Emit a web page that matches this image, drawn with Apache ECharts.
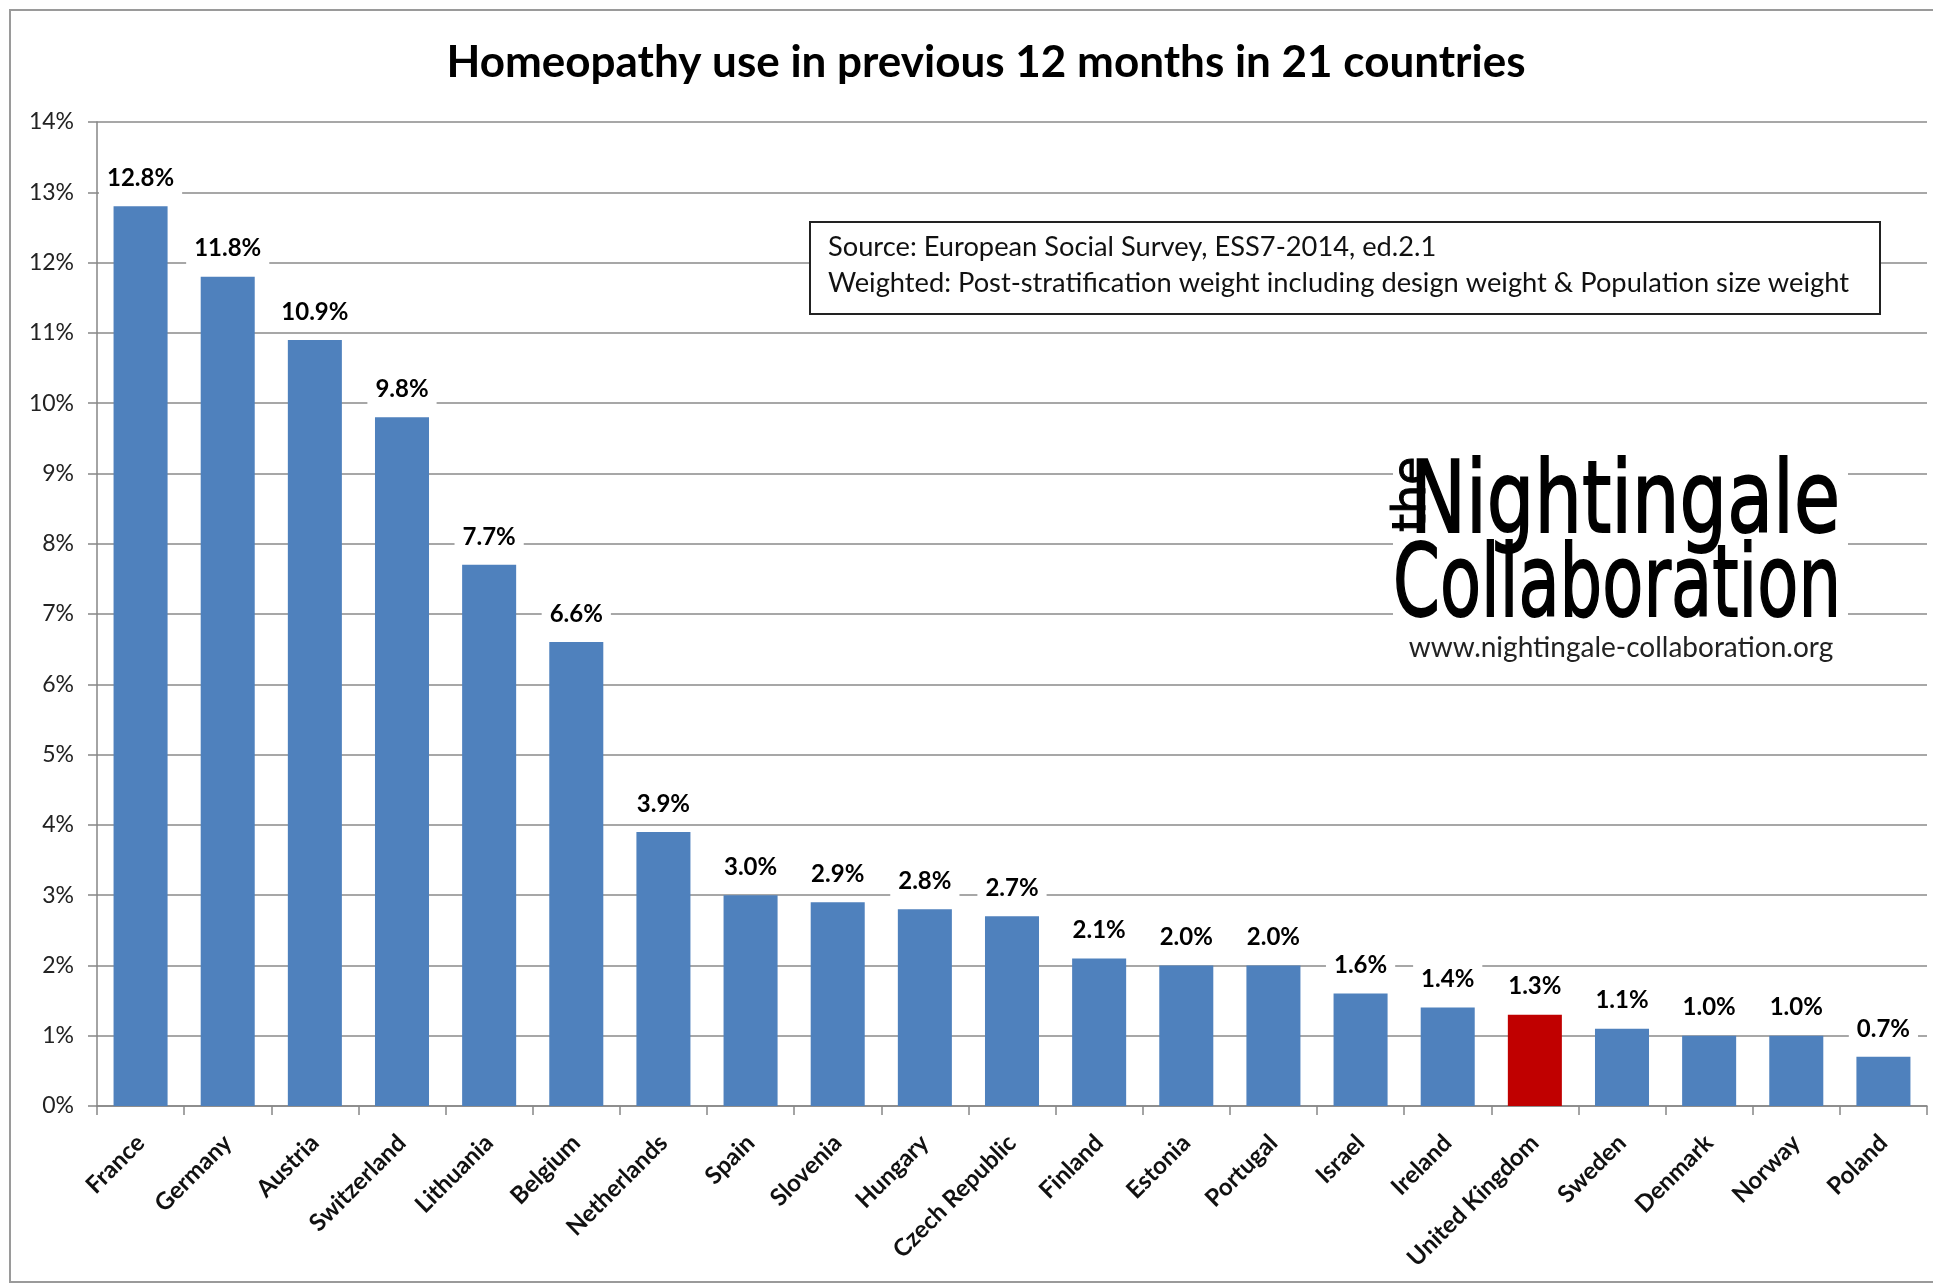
<!DOCTYPE html>
<html>
<head>
<meta charset="utf-8">
<script src="https://cdn.jsdelivr.net/npm/echarts@6/dist/echarts.min.js"></script>
<style>
html,body{margin:0;padding:0;background:#fff;}
#chart{width:1933px;height:1284px;}
</style>
</head>
<body>
<div id="chart"></div>
<script>
const titleText = 'Homeopathy use in previous 12 months in 21 countries';
const categories = ['France','Germany','Austria','Switzerland','Lithuania','Belgium','Netherlands','Spain','Slovenia','Hungary','Czech Republic','Finland','Estonia','Portugal','Israel','Ireland','United Kingdom','Sweden','Denmark','Norway','Poland'];
const values = [12.8,11.8,10.9,9.8,7.7,6.6,3.9,3.0,2.9,2.8,2.7,2.1,2.0,2.0,1.6,1.4,1.3,1.1,1.0,1.0,0.7];
const highlighted = ['United Kingdom'];
const yMin = 0, yMax = 14, yStep = 1;
const sourceLines = ['Source: European Social Survey, ESS7-2014, ed.2.1','Weighted: Post-stratification weight including design weight & Population size weight'];
const logoLines = ['the','Nightingale','Collaboration','www.nightingale-collaboration.org'];

const FONT = 'Lato, "Open Sans", sans-serif';
const mctx = document.createElement('canvas').getContext('2d');
function fitScale(text, font, target){ mctx.font = font; return target / mctx.measureText(text).width; }

const chart = echarts.init(document.getElementById('chart'), null, {renderer:'canvas'});
const logoFont = '"DejaVu Sans", sans-serif';
const sN = fitScale(logoLines[1], '100px "DejaVu Sans"', 430);
const sC = fitScale(logoLines[2], '100px "DejaVu Sans"', 448);
const sSrc = fitScale(sourceLines[1], '26px Lato', 1021);

chart.setOption({
  backgroundColor:'#fff',
  animation:false,
  title:{text:titleText,left:981,top:36,textAlign:'center',textStyle:{fontFamily:FONT,fontWeight:'bold',fontSize:44,color:'#000'}},
  grid:{left:97,right:6,top:122,bottom:178,containLabel:false},
  xAxis:{type:'category',data:categories,boundaryGap:true,
    axisLine:{lineStyle:{color:'#868686',width:1.5}},
    axisTick:{show:true,length:9,lineStyle:{color:'#868686',width:1.5}},
    axisLabel:{rotate:45,margin:33,interval:0,fontFamily:FONT,fontWeight:'bold',fontSize:24,color:'#111'}},
  yAxis:{type:'value',min:yMin,max:yMax,interval:yStep,
    axisLine:{show:true,lineStyle:{color:'#868686',width:1.5}},
    axisTick:{show:true,length:9,lineStyle:{color:'#868686',width:1.5}},
    axisLabel:{formatter:'{value}%',margin:23,fontFamily:FONT,fontSize:23,color:'#222'},
    splitLine:{lineStyle:{color:'#8a8a8a',width:1.5}}},
  series:[{type:'bar',barWidth:'62%',
    data:values.map((v,i)=>({value:v,itemStyle:{color: highlighted.includes(categories[i]) ? '#C00000' : '#4F81BD'}})),
    label:{show:true,position:'top',distance:12,formatter:p=>p.value.toFixed(1)+'%',fontFamily:FONT,fontWeight:'bold',fontSize:24,color:'#000',backgroundColor:'#fff',padding:[4,8]},
    z:3}],
  graphic:[
    {type:'rect',z:0,silent:true,shape:{x:10,y:10,width:1940,height:1272},style:{fill:'none',stroke:'#9a9a9a',lineWidth:2}},
    {type:'rect',z:10,shape:{x:810,y:222,width:1070,height:92},style:{fill:'#fff',stroke:'#222',lineWidth:2}},
    {type:'text',z:11,x:828,y:248,scaleX:sSrc,style:{text:sourceLines[0],fontFamily:FONT,fontSize:26,fill:'#111',align:'left',verticalAlign:'middle'}},
    {type:'text',z:11,x:828,y:284,scaleX:sSrc,style:{text:sourceLines[1],fontFamily:FONT,fontSize:26,fill:'#111',align:'left',verticalAlign:'middle'}},
    {type:'rect',z:10,shape:{x:1393,y:440,width:455,height:225},style:{fill:'#fff'}},
    {type:'text',z:11,x:1413,y:532,rotation:Math.PI/2,style:{text:logoLines[0],fontFamily:logoFont,fontSize:46,fill:'#000',stroke:'#000',lineWidth:1,align:'left',verticalAlign:'middle'}},
    {type:'text',z:11,x:1410,y:506,scaleX:sN,style:{text:logoLines[1],fontFamily:logoFont,fontSize:100,fill:'#000',stroke:'#000',lineWidth:1.8,align:'left',verticalAlign:'middle'}},
    {type:'text',z:11,x:1393,y:590,scaleX:sC,style:{text:logoLines[2],fontFamily:logoFont,fontSize:100,fill:'#000',stroke:'#000',lineWidth:1.8,align:'left',verticalAlign:'middle'}},
    {type:'text',z:11,x:1621,y:648,style:{text:logoLines[3],fontFamily:FONT,fontSize:28,fill:'#222',align:'center',verticalAlign:'middle'}}
  ]
});
</script>
</body>
</html>
